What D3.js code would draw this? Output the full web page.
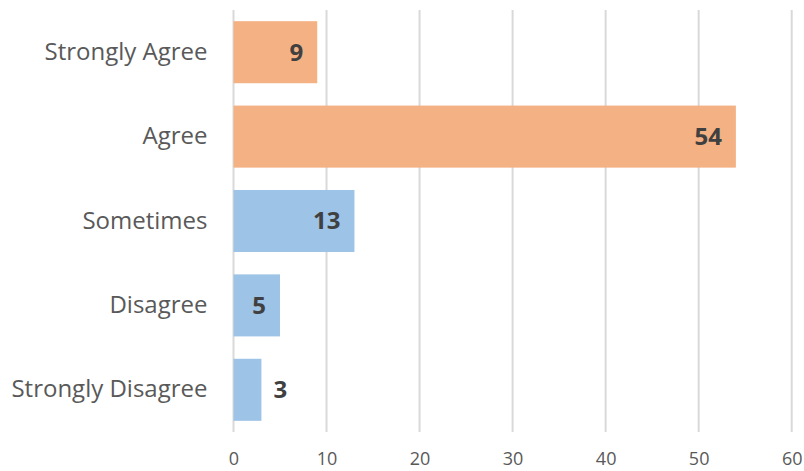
<!DOCTYPE html>
<html>
<head>
<meta charset="utf-8">
<script src="https://cdn.jsdelivr.net/npm/d3@7"></script>
<style>
  body { margin: 0; background: #fff; }
  text { font-family: "Open Sans", sans-serif; }
</style>
</head>
<body>
<div id="chart"></div>
<script>
var categories = ["Strongly Agree", "Agree", "Sometimes", "Disagree", "Strongly Disagree"]
var values = [9, 54, 13, 5, 3]
var groups = ["agree", "agree", "neutral", "disagree", "disagree"]
var xTicks = [0, 10, 20, 30, 40, 50, 60]

var width = 804
var height = 471

var colors = { agree: "#F4B183", neutral: "#9DC3E6", disagree: "#9DC3E6" }

var svg = d3.select("#chart").append("svg")
  .attr("width", width)
  .attr("height", height)

var x = d3.scaleLinear().domain([0, 60]).range([233.5, 791.7])
var y = d3.scaleBand()
  .domain(categories)
  .range([10, 432])
  .paddingInner(0.265)
  .paddingOuter(0.1325)

// vertical gridlines
svg.append("g")
  .selectAll("line")
  .data(xTicks)
  .enter().append("line")
  .attr("x1", function(d) { return x(d) })
  .attr("x2", function(d) { return x(d) })
  .attr("y1", 10)
  .attr("y2", 432)
  .attr("stroke", "#D9D9D9")
  .attr("stroke-width", 2)

// x tick labels
var xAxis = svg.append("g")
  .attr("transform", "translate(0,432)")
  .call(d3.axisBottom(x).tickValues(xTicks).tickSize(0).tickPadding(20))
xAxis.select(".domain").remove()
xAxis.selectAll("text")
  .attr("fill", "#595959")
  .style("font-size", "18px")
  .style("font-family", "Open Sans")

// category labels
var yAxis = svg.append("g")
  .attr("transform", "translate(" + x(0) + ",0)")
  .call(d3.axisLeft(y).tickSize(0).tickPadding(26))
yAxis.select(".domain").remove()
yAxis.selectAll("text")
  .attr("fill", "#595959")
  .style("font-size", "24px")
  .style("font-family", "Open Sans")

var data = categories.map(function(c, i) {
  return { cat: c, value: values[i], group: groups[i] }
})

svg.append("g")
  .selectAll("rect")
  .data(data)
  .enter().append("rect")
  .attr("x", x(0))
  .attr("y", function(d) { return y(d.cat) })
  .attr("width", function(d) { return x(d.value) - x(0) })
  .attr("height", y.bandwidth())
  .attr("fill", function(d) { return colors[d.group] })

// value labels, inside end unless they don't fit
var margin = 14
var labels = svg.append("g")
  .selectAll("text")
  .data(data)
  .enter().append("text")
  .text(function(d) { return d.value })
  .attr("fill", "#404040")
  .style("font-size", "24px")
  .style("font-weight", "bold")
  .attr("y", function(d) { return y(d.cat) + y.bandwidth() / 2 })
  .attr("dy", "0.35em")

labels.each(function(d) {
  var w = this.getComputedTextLength()
  var barW = x(d.value) - x(0)
  var t = d3.select(this)
  if (barW >= w + 2 * margin) {
    t.attr("x", x(d.value) - margin).attr("text-anchor", "end")
  } else {
    t.attr("x", x(d.value) + 12).attr("text-anchor", "start")
  }
})
</script>
</body>
</html>
